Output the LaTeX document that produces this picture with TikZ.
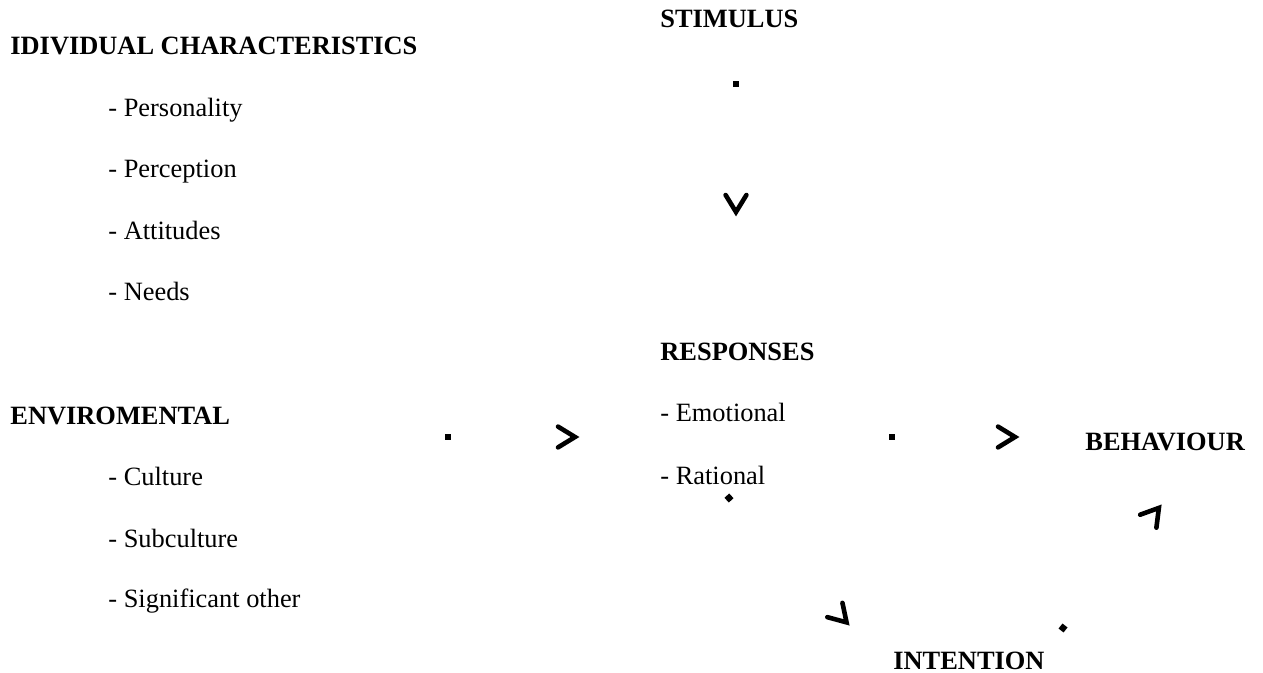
\documentclass[tikz,border=0pt]{standalone}
\usepackage{fontspec}
\setmainfont{Liberation Serif}
\usetikzlibrary{decorations.markings}
\tikzset{
  lbl/.style={inner sep=0pt, anchor=base west, font=\fontsize{13.2}{16}\selectfont},
  head/.style={inner sep=0pt, anchor=base west, font=\fontsize{13.2}{16}\selectfont\bfseries},
  conn/.style={postaction={decorate}, decoration={markings,
    mark=at position 0 with {\fill (-1.6pt,-1.6pt) rectangle (1.6pt,1.6pt);},
    mark=at position 1 with {\draw[line width=2.3pt, line cap=round, line join=miter] (-11pt,5.2pt) -- (-2.5pt,0pt) -- (-11pt,-5.2pt);}}}
}
\begin{document}
\begin{tikzpicture}[x=0.5pt, y=-0.5pt]
\useasboundingbox (0,0) rectangle (1263,673);
% left column
\node[head] (ind) at (10,55) {IDIVIDUAL CHARACTERISTICS};
\node[lbl] (pers) at (108,116.5) {- Personality};
\node[lbl] (perc) at (108,178) {- Perception};
\node[lbl] (att) at (108,239.5) {- Attitudes};
\node[lbl] (need) at (108,301) {- Needs};
\node[head] (env) at (10,424) {ENVIROMENTAL};
\node[lbl] (cult) at (108,485.5) {- Culture};
\node[lbl] (sub) at (108,547) {- Subculture};
\node[lbl] (sig) at (108,607) {- Significant other};
% middle / right
\node[head] (stim) at (660,28) {STIMULUS};
\node[head] (resp) at (660,361) {RESPONSES};
\node[lbl] (emo) at (660,422) {- Emotional};
\node[lbl] (rat) at (660,484) {- Rational};
\node[head] (beh) at (1085,451) {BEHAVIOUR};
\node[head] (int) at (893,669) {INTENTION};
% connector ends
\coordinate (c1s) at (736,84);   \coordinate (c1t) at (736,217);
\coordinate (c2s) at (448,437);  \coordinate (c2t) at (580,437);
\coordinate (c3s) at (892,437);  \coordinate (c3t) at (1020,437);
\coordinate (c4s) at (729,498);  \coordinate (c4t) at (850,626);
\coordinate (c5s) at (1063,628); \coordinate (c5t) at (1162,504);
\path[conn] (c1s) -- (c1t);
\path[conn] (c2s) -- (c2t);
\path[conn] (c3s) -- (c3t);
\path[conn] (c4s) -- (c4t);
\path[conn] (c5s) -- (c5t);
\end{tikzpicture}
\end{document}
